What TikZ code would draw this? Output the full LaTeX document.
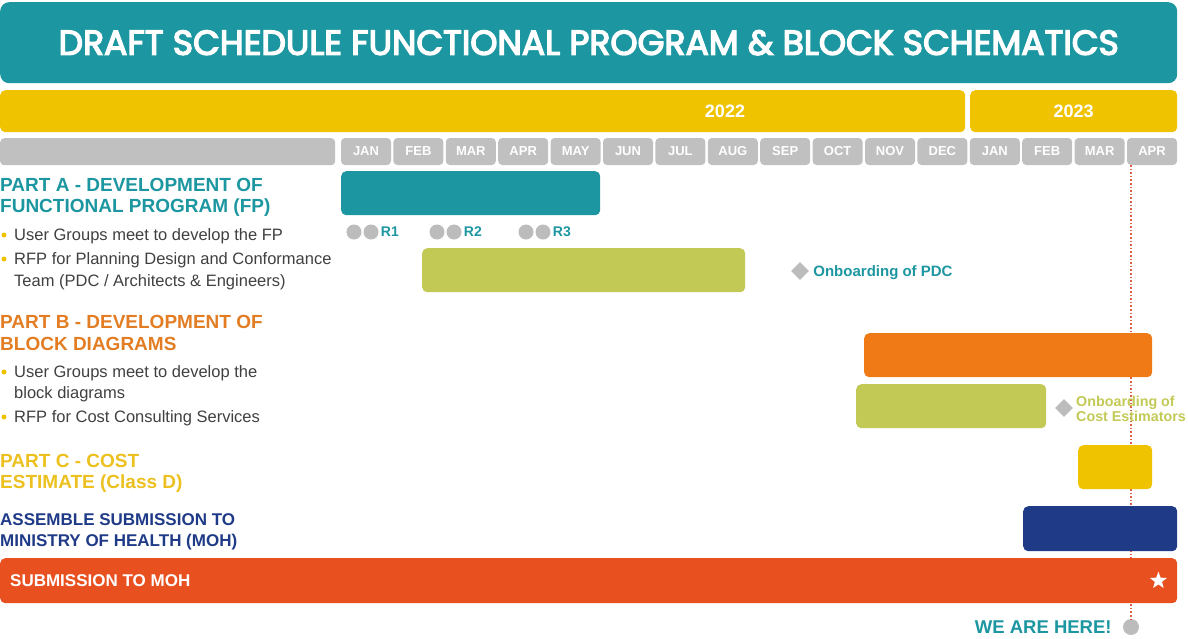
\documentclass[tikz,border=0pt]{standalone}
\usepackage{fontspec}
\setmainfont{Liberation Sans}
\newfontfamily\titlefont[FakeBold=4]{Poppins}
\usetikzlibrary{shapes.geometric}
\definecolor{schedteal}{RGB}{28,150,160}
\definecolor{schedyellow}{RGB}{240,195,0}
\definecolor{monthgray}{RGB}{192,192,192}
\definecolor{schedgreen}{RGB}{194,201,85}
\definecolor{schedorange}{RGB}{240,123,22}
\definecolor{schednavy}{RGB}{31,59,135}
\definecolor{schedred}{RGB}{232,80,31}
\definecolor{headorange}{RGB}{226,125,36}
\definecolor{headyellow}{RGB}{236,192,30}
\definecolor{textgray}{RGB}{64,64,64}
\definecolor{markgray}{RGB}{188,188,188}
\definecolor{nowred}{RGB}{222,96,72}
\tikzset{
  bar/.style={rounded corners=5pt, inner sep=0pt, minimum height=44pt, anchor=north west},
  month/.style={fill=monthgray, rounded corners=4pt, minimum width=50pt, minimum height=27pt,
    inner sep=0pt, text=white, font=\bfseries\fontsize{13}{13}\selectfont},
  yeartext/.style={text=white, inner sep=0pt, font=\bfseries\fontsize{18}{18}\selectfont},
  heading/.style={anchor=base west, inner sep=0pt, font=\bfseries\fontsize{19}{20}\selectfont},
  item/.style={anchor=base west, inner sep=0pt, text=textgray, font=\fontsize{16.5}{20}\selectfont},
  dot/.style={circle, fill=markgray, minimum size=15pt, inner sep=0pt},
  rlabel/.style={anchor=west, inner sep=2pt, text=schedteal, font=\bfseries\fontsize{14}{14}\selectfont},
  milestone/.style={diamond, fill=markgray, minimum size=18pt, inner sep=0pt},
  onboard/.style={anchor=base west, inner sep=0pt, font=\bfseries\fontsize{15}{15}\selectfont}
}
\begin{document}
\begin{tikzpicture}[x=1pt,y=-1pt]
\useasboundingbox (0,0) rectangle (1188,638);
% title and time axis
\node[fill=schedteal, rounded corners=9pt, minimum width=1177pt, minimum height=81pt, anchor=north west,
  inner sep=0pt, text=white, font=\titlefont\fontsize{34.6}{34.6}\selectfont] (title) at (0,2)
  {DRAFT SCHEDULE FUNCTIONAL PROGRAM \& BLOCK SCHEMATICS};
\node[fill=schedyellow, rounded corners=5pt, minimum width=965pt, minimum height=42pt, inner sep=0pt,
  anchor=north west] (y2022) at (0,90) {};
\node[yeartext] (t2022) at (725,111) {2022};
\node[fill=schedyellow, rounded corners=5pt, minimum width=207pt, minimum height=42pt, inner sep=0pt,
  anchor=north west, yeartext] (y2023) at (970,90) {2023};
\node[fill=monthgray, rounded corners=4pt, minimum width=335pt, minimum height=27pt, inner sep=0pt,
  anchor=north west] (blank) at (0,138) {};
\foreach \m [count=\i from 0] in {JAN,FEB,MAR,APR,MAY,JUN,JUL,AUG,SEP,OCT,NOV,DEC,JAN,FEB,MAR,APR}
  \node[month] (m\i) at ({366+52.4*\i},151.5) {\m};

% we are here
\coordinate (nowtop) at (1131,165);
\node[circle, fill=markgray, minimum size=16pt, inner sep=0pt] (here) at (1131,627) {};
\draw[nowred, dotted, line width=1.6pt] (nowtop) -- (here.north);
\node[anchor=east, inner sep=0pt, text=schedteal, font=\bfseries\fontsize{18.5}{18.5}\selectfont]
  (heretext) at ([xshift=-11pt]here.west) {WE ARE HERE!};

% part A
\node[heading, text=schedteal] (headA1) at (0,191) {PART A - DEVELOPMENT OF};
\node[heading, text=schedteal] (headA2) at (0,212) {FUNCTIONAL PROGRAM (FP)};
\fill[schedyellow] (4,235) circle (2.5);
\node[item] (itemA1) at (14,240) {User Groups meet to develop the FP};
\fill[schedyellow] (4,259) circle (2.5);
\node[item] (itemA2) at (14,264) {RFP for Planning Design and Conformance};
\node[item] (itemA3) at (14,286) {Team (PDC / Architects \& Engineers)};
\node[bar, fill=schedteal, minimum width=259pt] (barA) at (341,171) {};
\node[dot] (r1a) at (354,232) {};
\node[dot] (r1b) at (371,232) {};
\node[rlabel] (r1) at (r1b.east) {R1};
\node[dot] (r2a) at (437,232) {};
\node[dot] (r2b) at (454,232) {};
\node[rlabel] (r2) at (r2b.east) {R2};
\node[dot] (r3a) at (526,232) {};
\node[dot] (r3b) at (543,232) {};
\node[rlabel] (r3) at (r3b.east) {R3};
\node[bar, fill=schedgreen, minimum width=323pt] (rfpA) at (422,248) {};
\node[milestone] (pdc) at (800,271) {};
\node[onboard, text=schedteal] (pdctext) at ([xshift=4pt,yshift=-5.5pt]pdc.east) {Onboarding of PDC};

% part B
\node[heading, text=headorange] (headB1) at (0,328) {PART B - DEVELOPMENT OF};
\node[heading, text=headorange] (headB2) at (0,350) {BLOCK DIAGRAMS};
\fill[schedyellow] (4,372) circle (2.5);
\node[item] (itemB1) at (14,377) {User Groups meet to develop the};
\node[item] (itemB2) at (14,398) {block diagrams};
\fill[schedyellow] (4,417) circle (2.5);
\node[item] (itemB3) at (14,422) {RFP for Cost Consulting Services};
\node[bar, fill=schedorange, minimum width=288pt] (barB) at (864,333) {};
\node[bar, fill=schedgreen, minimum width=190pt] (rfpB) at (856,384) {};
\node[milestone] (cost) at (1064,408) {};
\node[onboard, text=schedgreen, font=\bfseries\fontsize{14.3}{14.3}\selectfont] (costtext1) at (1076,406) {Onboarding of};
\node[onboard, text=schedgreen, font=\bfseries\fontsize{14.3}{14.3}\selectfont] (costtext2) at (1076,421) {Cost Estimators};

% part C and submission
\node[heading, text=headyellow] (headC1) at (0,467) {PART C - COST};
\node[heading, text=headyellow] (headC2) at (0,488) {ESTIMATE (Class D)};
\node[bar, fill=schedyellow, minimum width=74pt] (barC) at (1078,445) {};
\node[heading, text=schednavy, font=\bfseries\fontsize{17}{17}\selectfont] (headD1) at (0,525) {ASSEMBLE SUBMISSION TO};
\node[heading, text=schednavy, font=\bfseries\fontsize{17}{17}\selectfont] (headD2) at (0,546) {MINISTRY OF HEALTH (MOH)};
\node[bar, fill=schednavy, minimum width=154pt, minimum height=45pt] (barD) at (1023,506) {};
\node[bar, fill=schedred, minimum width=1177pt, minimum height=45pt] (submit) at (0,558) {};
\node[anchor=west, inner sep=0pt, text=white, font=\bfseries\fontsize{17}{17}\selectfont]
  (submittext) at ([xshift=10pt]submit.west) {SUBMISSION TO MOH};
\node[star, star points=5, star point ratio=2.4, fill=white, minimum size=18pt, inner sep=0pt]
  (finish) at ([xshift=-19pt]submit.east) {};
\end{tikzpicture}
\end{document}
